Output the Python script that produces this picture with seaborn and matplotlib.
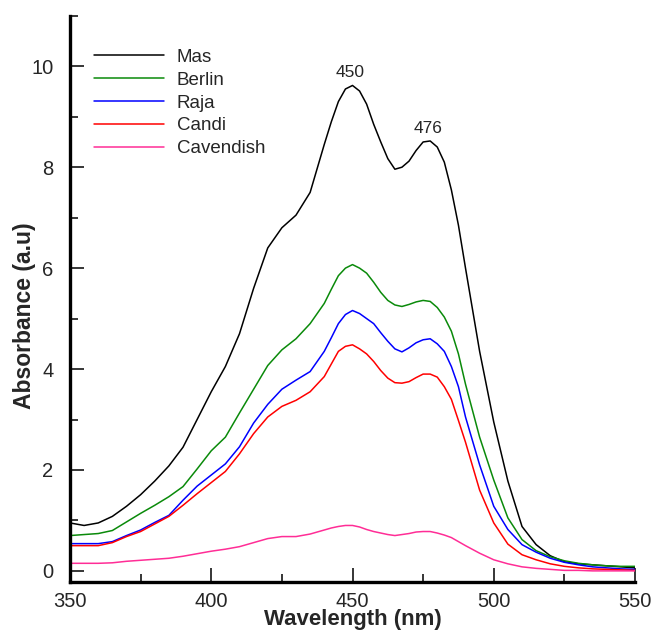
import numpy as np
import pandas as pd
import matplotlib
matplotlib.use("Agg")
import matplotlib.pyplot as plt
import seaborn as sns
from matplotlib.ticker import MultipleLocator

# wavelength grid (nm), finer around the two peaks, and absorbance
wavelength = [350, 355, 360, 365, 370, 375, 380, 385, 390, 395,
              400, 405, 410, 415, 420, 425, 430, 435, 440, 442.5,
              445, 447.5, 450, 452.5, 455, 457.5, 460, 462.5, 465, 467.5,
              470, 472.5, 475, 477.5, 480, 482.5, 485, 487.5, 490, 495,
              500, 505, 510, 515, 520, 525, 530, 535, 540, 545, 550]

mas = [0.95, 0.90, 0.95, 1.08, 1.28, 1.51, 1.78, 2.08, 2.45, 3.00,
       3.55, 4.05, 4.70, 5.60, 6.40, 6.80, 7.05, 7.50, 8.45, 8.90,
       9.30, 9.55, 9.62, 9.51, 9.25, 8.85, 8.50, 8.17, 7.96, 8.00,
       8.12, 8.33, 8.50, 8.52, 8.40, 8.10, 7.55, 6.85, 6.00, 4.35,
       2.95, 1.78, 0.88, 0.52, 0.30, 0.18, 0.14, 0.12, 0.10, 0.08, 0.06]
berlin = [0.70, 0.72, 0.74, 0.80, 0.97, 1.14, 1.30, 1.47, 1.67, 2.02,
          2.38, 2.65, 3.13, 3.60, 4.07, 4.38, 4.60, 4.90, 5.30, 5.58,
          5.85, 6.00, 6.07, 6.00, 5.90, 5.72, 5.52, 5.36, 5.27, 5.24,
          5.28, 5.33, 5.36, 5.34, 5.22, 5.03, 4.75, 4.30, 3.70, 2.65,
          1.80, 1.05, 0.62, 0.40, 0.28, 0.20, 0.15, 0.12, 0.10, 0.09, 0.09]
raja = [0.54, 0.54, 0.54, 0.58, 0.70, 0.81, 0.96, 1.10, 1.40, 1.68,
        1.90, 2.12, 2.46, 2.93, 3.30, 3.60, 3.78, 3.95, 4.35, 4.62,
        4.90, 5.08, 5.16, 5.10, 5.00, 4.90, 4.72, 4.55, 4.40, 4.34,
        4.42, 4.52, 4.58, 4.60, 4.50, 4.35, 4.05, 3.65, 3.05, 2.10,
        1.28, 0.82, 0.52, 0.37, 0.25, 0.17, 0.12, 0.08, 0.06, 0.04, 0.03]
candi = [0.50, 0.50, 0.50, 0.56, 0.68, 0.78, 0.93, 1.08, 1.30, 1.53,
         1.75, 1.97, 2.32, 2.72, 3.05, 3.26, 3.38, 3.55, 3.85, 4.10,
         4.35, 4.45, 4.48, 4.40, 4.30, 4.15, 3.97, 3.82, 3.73, 3.72,
         3.75, 3.83, 3.90, 3.90, 3.84, 3.65, 3.40, 2.98, 2.55, 1.60,
         0.95, 0.53, 0.32, 0.22, 0.14, 0.09, 0.06, 0.04, 0.03, 0.02, 0.01]
cavendish = [0.15, 0.15, 0.15, 0.16, 0.19, 0.21, 0.23, 0.25, 0.29, 0.34,
             0.39, 0.43, 0.48, 0.56, 0.64, 0.68, 0.68, 0.73, 0.81, 0.85,
             0.88, 0.90, 0.90, 0.87, 0.82, 0.78, 0.75, 0.72, 0.70, 0.72,
             0.74, 0.77, 0.78, 0.78, 0.75, 0.71, 0.66, 0.58, 0.50, 0.35,
             0.22, 0.14, 0.08, 0.05, 0.03, 0.01, 0.01, 0.00, 0.00, 0.00, 0.00]

varieties = ["Mas", "Berlin", "Raja", "Candi", "Cavendish"]
colors = ["#000000", "#0a8a0a", "#0000ff", "#ff0000", "#ff2d96"]
peak_labels = ["450", "476"]
peak_pos = [(449.3, 9.88), (476.7, 8.77)]

df = pd.DataFrame({"Wavelength": wavelength, "Mas": mas, "Berlin": berlin,
                   "Raja": raja, "Candi": candi, "Cavendish": cavendish})
long_df = df.melt(id_vars="Wavelength", var_name="Variety", value_name="Absorbance")

sns.set_style("white")
plt.rcParams["font.family"] = ["Liberation Sans", "DejaVu Sans"]

fig = plt.figure(figsize=(6.56, 6.33), dpi=100)
ax = fig.add_axes([0.1067, 0.0806, 0.8613, 0.8944])

sns.lineplot(data=long_df, x="Wavelength", y="Absorbance", hue="Variety",
             hue_order=varieties, palette=colors, linewidth=1.1, ax=ax)

for txt, (px, py) in zip(peak_labels, peak_pos):
    ax.text(px, py, txt, ha="center", va="center", fontsize=12.5)

ax.set_xlim(350, 550)
ax.set_ylim(-0.22, 11.0)
ax.xaxis.set_major_locator(MultipleLocator(50))
ax.xaxis.set_minor_locator(MultipleLocator(25))
ax.yaxis.set_major_locator(MultipleLocator(2))
ax.yaxis.set_minor_locator(MultipleLocator(1))
ax.tick_params(which="major", direction="in", length=10, width=1.3, labelsize=14.5)
ax.tick_params(axis="y", which="major", pad=12)
ax.tick_params(axis="x", which="major", pad=7)
ax.tick_params(which="minor", direction="in", length=6, width=1.3)
ax.tick_params(axis="x", bottom=True, which="both")
ax.tick_params(axis="y", left=True, which="both")

for side in ["top", "right"]:
    ax.spines[side].set_visible(False)
for side in ["left", "bottom"]:
    ax.spines[side].set_linewidth(2.4)
    ax.spines[side].set_color("black")

ax.set_xlabel("Wavelength (nm)", fontsize=16, fontweight="bold", labelpad=-1)
ax.set_ylabel("Absorbance (a.u)", fontsize=16.5, fontweight="bold")
ax.yaxis.set_label_coords(-0.06, 0.47)

leg = ax.legend(loc="upper left", bbox_to_anchor=(0.013, 0.972), frameon=False,
                fontsize=13.5, handlelength=3.7, handletextpad=0.7,
                labelspacing=0.31)

fig.savefig("out.png", dpi=100)
